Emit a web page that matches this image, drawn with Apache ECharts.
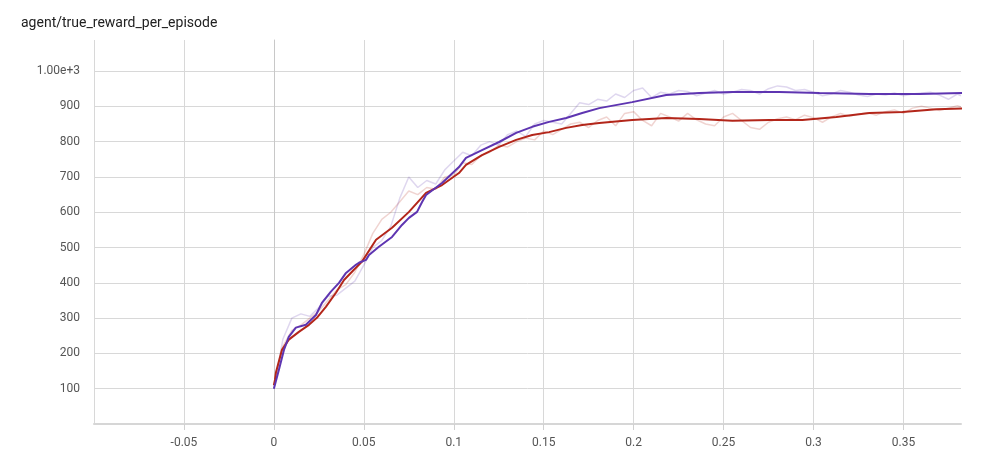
<!DOCTYPE html>
<html>
<head>
<meta charset="utf-8">
<script src="https://cdn.jsdelivr.net/npm/echarts@6/dist/echarts.min.js"></script>
<style>
html,body{margin:0;padding:0;background:#fff;}
#chart{width:1007px;height:453px;}
</style>
</head>
<body>
<div id="chart"></div>
<script>
var chartTitle = 'agent/true_reward_per_episode';

var purpleX = [0, 0.0028, 0.0056, 0.0083, 0.0122, 0.0178, 0.0234, 0.0267, 0.0317, 0.0362, 0.0401, 0.0456, 0.0473, 0.0512, 0.0529, 0.0584, 0.0657, 0.0712, 0.0751, 0.0796, 0.0824, 0.0846, 0.0935, 0.1029, 0.1068, 0.1157, 0.1252, 0.1347, 0.1436, 0.1530, 0.1625, 0.1714, 0.1809, 0.1992, 0.2181, 0.2365, 0.2549, 0.2810, 0.3033, 0.3311, 0.3589, 0.3829];
var purpleY = [100, 154, 210, 247, 273, 281, 309, 343, 375, 400, 428, 451, 457, 465, 479, 502, 530, 564, 584, 601, 629, 649, 683, 728, 754, 776, 799, 825, 842, 856, 867, 881, 895, 912, 932, 938, 941, 941, 938, 935, 935, 938];

var redX = [0, 0.0006, 0.0011, 0.0045, 0.0083, 0.0139, 0.0195, 0.0239, 0.0289, 0.0345, 0.0390, 0.0445, 0.0490, 0.0568, 0.0657, 0.0751, 0.0846, 0.0935, 0.1029, 0.1068, 0.1157, 0.1252, 0.1347, 0.1436, 0.1530, 0.1625, 0.1714, 0.1809, 0.1992, 0.2181, 0.2365, 0.2549, 0.2755, 0.2938, 0.3127, 0.3311, 0.3495, 0.3684, 0.3829];
var redY = [110, 125, 145, 210, 239, 261, 281, 301, 332, 372, 408, 437, 460, 522, 556, 601, 655, 677, 711, 734, 762, 785, 805, 819, 827, 839, 847, 853, 861, 867, 864, 859, 861, 861, 870, 881, 884, 892, 894];

var rawX = [0, 0.005, 0.010, 0.015, 0.020, 0.025, 0.030, 0.035, 0.040, 0.045, 0.050, 0.055, 0.060, 0.065, 0.070, 0.075, 0.080, 0.085, 0.090, 0.095, 0.100, 0.105, 0.110, 0.115, 0.120, 0.125, 0.130, 0.135, 0.140, 0.145, 0.150, 0.155, 0.160, 0.165, 0.170, 0.175, 0.180, 0.185, 0.190, 0.195, 0.200, 0.205, 0.210, 0.215, 0.220, 0.225, 0.230, 0.235, 0.240, 0.245, 0.250, 0.255, 0.260, 0.265, 0.270, 0.275, 0.280, 0.285, 0.290, 0.295, 0.300, 0.305, 0.310, 0.315, 0.320, 0.325, 0.330, 0.335, 0.340, 0.345, 0.350, 0.355, 0.360, 0.365, 0.370, 0.375, 0.380, 0.382];
var purpleRawY = [100, 240, 300, 312, 305, 330, 362, 365, 385, 405, 450, 500, 520, 560, 640, 700, 670, 690, 680, 720, 745, 770, 760, 790, 800, 790, 820, 830, 815, 850, 860, 855, 850, 880, 910, 905, 920, 915, 935, 925, 945, 952, 925, 940, 935, 945, 942, 930, 938, 945, 935, 940, 948, 945, 935, 950, 958, 955, 945, 948, 940, 930, 935, 945, 940, 932, 928, 935, 932, 938, 930, 935, 938, 940, 932, 920, 935, 930];
var redRawY = [110, 220, 265, 280, 300, 320, 350, 380, 395, 430, 480, 540, 580, 600, 630, 660, 650, 670, 665, 700, 705, 740, 735, 760, 770, 790, 785, 800, 810, 805, 830, 820, 835, 850, 855, 840, 860, 870, 845, 880, 885, 860, 845, 880, 870, 858, 880, 862, 850, 845, 870, 880, 860, 840, 835, 855, 865, 870, 862, 875, 868, 855, 870, 880, 872, 878, 882, 875, 885, 890, 880, 895, 900, 895, 888, 895, 902, 898];

function zip(xs, ys) {
  var out = [];
  for (var i = 0; i < xs.length; i++) out.push([xs[i], ys[i]]);
  return out;
}

var PURPLE = '#5e35b1';
var RED = '#b3261a';

var chart = echarts.init(document.getElementById('chart'), null, {renderer: 'canvas'});
chart.setOption({
  animation: false,
  backgroundColor: '#fff',
  title: {
    text: chartTitle,
    left: 16,
    top: 11,
    textStyle: {fontFamily: 'Roboto', fontSize: 14, fontWeight: 'normal', color: '#212121'}
  },
  grid: {left: 94, right: 46, top: 40, bottom: 29, containLabel: false},
  xAxis: {
    type: 'value',
    min: -0.1,
    max: 0.382,
    interval: 0.05,
    axisLine: {show: true, lineStyle: {color: '#d6d6d6', width: 2}},
    axisTick: {show: true, length: 6, lineStyle: {color: '#d0d0d0'}},
    axisLabel: {
      showMinLabel: false,
      showMaxLabel: false,
      margin: 13,
      fontFamily: 'Roboto',
      fontSize: 12,
      color: '#555',
      formatter: function (v) { return String(+v.toFixed(2)); }
    },
    splitLine: {show: true, showMinLine: true, showMaxLine: false, lineStyle: {color: '#d8d8d8', width: 1}}
  },
  yAxis: {
    type: 'value',
    min: 0,
    max: 1088,
    interval: 100,
    axisLine: {show: true, lineStyle: {color: '#c8c8c8', width: 1}},
    axisTick: {show: false},
    axisLabel: {
      showMaxLabel: false,
      margin: 14,
      fontFamily: 'Roboto',
      fontSize: 12,
      color: '#555',
      formatter: function (v) {
        if (v === 0) return '';
        if (v === 1000) return '1.00e+3';
        return String(v);
      }
    },
    splitLine: {show: true, showMinLine: false, showMaxLine: false, lineStyle: {color: '#d8d8d8', width: 1}}
  },
  series: [
    {type: 'line', data: zip(rawX, redRawY), showSymbol: false, symbol: 'none', lineStyle: {color: RED, width: 1.5, opacity: 0.2}, z: 1},
    {type: 'line', data: zip(rawX, purpleRawY), showSymbol: false, symbol: 'none', lineStyle: {color: PURPLE, width: 1.5, opacity: 0.2}, z: 1},
    {type: 'line', data: zip(redX, redY), showSymbol: false, symbol: 'none', lineStyle: {color: RED, width: 2}, z: 3},
    {type: 'line', data: zip(purpleX, purpleY), showSymbol: false, symbol: 'none', lineStyle: {color: PURPLE, width: 2}, z: 4}
  ]
});
</script>
</body>
</html>
